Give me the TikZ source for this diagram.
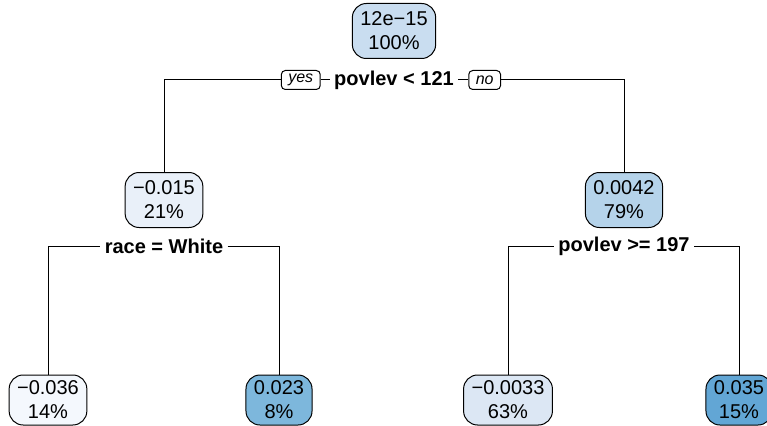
\documentclass[tikz,border=0pt]{standalone}
\usepackage{fontspec}
\setmainfont{Liberation Sans}
\usetikzlibrary{positioning}
\definecolor{blueA}{HTML}{F4F8FD}
\definecolor{blueB}{HTML}{E9F0F9}
\definecolor{blueC}{HTML}{DCE7F4}
\definecolor{blueD}{HTML}{C9DDF0}
\definecolor{blueE}{HTML}{B5D3EA}
\definecolor{blueF}{HTML}{7DB7DC}
\definecolor{blueG}{HTML}{62A6D5}
\begin{document}
\begin{tikzpicture}[x=1pt,y=-1pt,line width=1pt,
  treenode/.style={draw,rounded corners=14pt,align=center,inner xsep=8pt,inner ysep=0pt,minimum height=55pt,font=\fontsize{20}{24}\selectfont},
  leafnode/.style={treenode,minimum height=50pt},
  splitlabel/.style={inner xsep=4pt,inner ysep=1pt,font=\fontsize{20}{24}\selectfont\bfseries},
  yesno/.style={draw,rounded corners=4pt,inner xsep=7pt,inner ysep=2pt,minimum height=19pt,font=\fontsize{16}{18}\selectfont\itshape}]
\useasboundingbox (0,0) rectangle (767,425);
\node[treenode,fill=blueD] (n1) at (394,31) {12e−15\\100\%};
\node[treenode,fill=blueB] (n2) at (164,200) {−0.015\\21\%};
\node[treenode,fill=blueE] (n3) at (624,200) {0.0042\\79\%};
\node[leafnode,fill=blueA] (n4) at (48,400) {−0.036\\14\%};
\node[leafnode,fill=blueF] (n5) at (279,400) {0.023\\8\%};
\node[leafnode,fill=blueC] (n6) at (508,400) {−0.0033\\63\%};
\node[leafnode,fill=blueG] (n7) at (739,400) {0.035\\15\%};
\node[splitlabel] (t1) at (394,80) {povlev < 121};
\node[yesno,left=9pt of t1] (yes) {yes};
\node[yesno,right=10pt of t1] (no) {no};
\node[splitlabel] (t2) at (164,246) {race = White};
\node[splitlabel] (t3) at (624,246) {povlev >= 197};
\draw (n2.north) |- (yes.west);
\draw (yes.east) -- (t1.west);
\draw (t1.east) -- (no.west);
\draw (no.east) -| (n3.north);
\draw (n4.north) |- (t2.west);
\draw (t2.east) -| (n5.north);
\draw (n6.north) |- (t3.west);
\draw (t3.east) -| (n7.north);
\end{tikzpicture}
\end{document}
